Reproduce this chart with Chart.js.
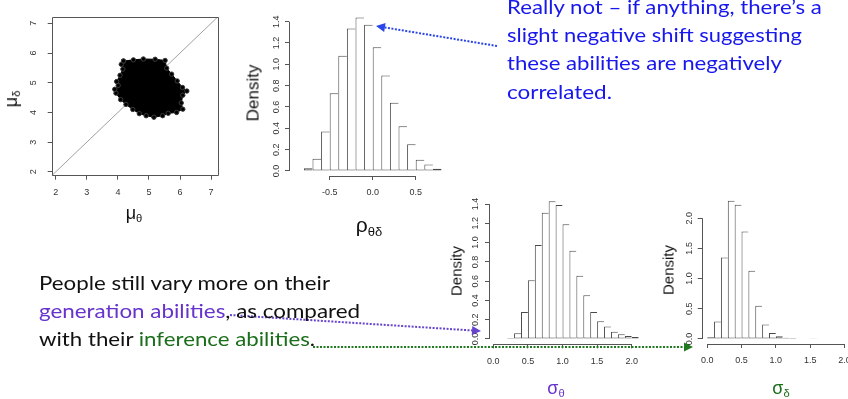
<!DOCTYPE html>
<html>
<head>
<meta charset="utf-8">
<script src="https://cdn.jsdelivr.net/npm/chart.js@4.4.1/dist/chart.umd.min.js"></script>
<style>
body { margin: 0; background: #fff; }
#stage { position: relative; width: 848px; height: 399px; overflow: hidden; background: #fff; font-family: "Liberation Sans", Arial, sans-serif; }
#stage canvas { position: absolute; }
.lbl { position: absolute; white-space: nowrap; color: #111; line-height: 1; }
.rot { transform: translate(-50%, -50%) rotate(-90deg); }
.ctr { transform: translate(-50%, -50%); }
.lbl sub { font-size: 0.62em; vertical-align: -0.25em; }
.txt { position: absolute; white-space: nowrap; font-family: Lato, sans-serif; font-size: 20px; line-height: 28px; transform-origin: 0 50%; color: #111; }
.blue { color: #1717ee; }
.purple { color: #6633cc; }
.green { color: #1b6e1b; }
</style>
</head>
<body>
<div id="stage">
  <canvas id="scatter" width="235" height="220" style="left:0;top:0"></canvas>
  <canvas id="rho" width="230" height="215" style="left:240px;top:0"></canvas>
  <canvas id="sigTheta" width="215" height="214" style="left:440px;top:185px"></canvas>
  <canvas id="sigDelta" width="210" height="214" style="left:655px;top:185px"></canvas>
  <canvas id="ann" width="848" height="399" style="left:0;top:0"></canvas>

  <div class="lbl rot" style="left:12px;top:99px;font-size:18px">μ<sub>δ</sub></div>
  <div class="lbl ctr" style="left:134px;top:214px;font-size:18px">μ<sub>θ</sub></div>
  <div class="lbl rot" style="left:253px;top:93px;font-size:17px">Density</div>
  <div class="lbl ctr" style="left:369px;top:226px;font-size:21px">ρ<sub>θδ</sub></div>
  <div class="lbl rot" style="left:456px;top:271px;font-size:15px">Density</div>
  <div class="lbl ctr purple" style="left:556px;top:389px;font-size:18px">σ<sub>θ</sub></div>
  <div class="lbl rot" style="left:668px;top:270px;font-size:15px">Density</div>
  <div class="lbl ctr green" style="left:781px;top:389px;font-size:18px">σ<sub>δ</sub></div>

  <div class="txt blue fit" data-w="315" style="left:507px;top:-8px">Really not – if anything, there’s a</div>
  <div class="txt blue fit" data-w="295" style="left:507px;top:20px">slight negative shift suggesting</div>
  <div class="txt blue fit" data-w="275" style="left:507px;top:48px">these abilities are negatively</div>
  <div class="txt blue fit" data-w="105" style="left:507px;top:77px">correlated.</div>

  <div class="txt fit" data-w="291" style="left:39px;top:268px">People still vary more on their</div>
  <div class="txt fit" data-w="321" style="left:39px;top:296px"><span class="purple">generation abilities</span>, as compared</div>
  <div class="txt fit" data-w="276" style="left:39px;top:324px">with their <span class="green">inference abilities</span>.</div>
</div>
<script>
// posterior samples mu_theta vs mu_delta (outline of the cloud)
const blobX = [4.18, 4.50, 4.82, 5.20, 5.52, 5.57, 5.73, 5.91, 6.08, 6.22, 6.09, 6.04, 6.09, 5.89, 5.62, 5.44, 5.16, 4.91, 4.69, 4.48, 4.26, 4.09, 3.94, 3.90, 4.01, 3.96, 4.07, 4.16, 4.11, 4.18];
const blobY = [5.73, 5.77, 5.80, 5.79, 5.75, 5.49, 5.29, 5.06, 4.84, 4.72, 4.58, 4.32, 4.11, 4.00, 3.97, 3.89, 3.84, 3.89, 3.96, 4.10, 4.27, 4.43, 4.65, 4.78, 4.91, 5.04, 5.25, 5.46, 5.62, 5.73];
const identLine = [1.5, 7.5];
const scatTicks = [2, 3, 4, 5, 6, 7];

// rho histogram
const rhoMid = [-0.85, -0.75, -0.65, -0.55, -0.45, -0.35, -0.25, -0.15, -0.05, 0.05, 0.15, 0.25, 0.35, 0.45, 0.55, 0.65, 0.75, 0.85];
const rhoDens = [0.005, 0.025, 0.115, 0.37, 0.73, 1.08, 1.335, 1.44, 1.37, 1.16, 0.895, 0.64, 0.42, 0.25, 0.105, 0.06, 0.02, 0.005];
const rhoXTicks = [-0.5, 0, 0.5];
const rhoYTicks = [0, 0.2, 0.4, 0.6, 0.8, 1.0, 1.2, 1.4];

// sigma_theta histogram
const sigThMid = [0.25, 0.35, 0.45, 0.55, 0.65, 0.75, 0.85, 0.95, 1.05, 1.15, 1.25, 1.35, 1.45, 1.55, 1.65, 1.75, 1.85, 1.95, 2.05];
const sigThDens = [0.01, 0.06, 0.28, 0.61, 0.975, 1.31, 1.43, 1.39, 1.19, 0.915, 0.655, 0.455, 0.28, 0.185, 0.13, 0.075, 0.05, 0.03, 0.02];
const sigThXTicks = [0, 0.5, 1.0, 1.5, 2.0];
const sigThYTicks = [0, 0.2, 0.4, 0.6, 0.8, 1.0, 1.2, 1.4];

// sigma_delta histogram
const sigDeMid = [0.05, 0.15, 0.25, 0.35, 0.45, 0.55, 0.65, 0.75, 0.85, 0.95, 1.05, 1.15, 1.25, 1.35, 1.45, 1.55];
const sigDeDens = [0.03, 0.29, 1.35, 2.29, 2.22, 1.78, 1.13, 0.55, 0.24, 0.10, 0.045, 0.02, 0.015, 0.01, 0.008, 0.004];
const sigDeXTicks = [0, 0.5, 1.0, 1.5, 2.0];
const sigDeYTicks = [0, 0.5, 1.0, 1.5, 2.0];

const LINE = '#555';

// R style axes: line only from first to last tick, or a full box
const rAxes = {
  id: 'rAxes',
  afterDraw(chart, args, opts) {
    const { ctx, chartArea: a, scales } = chart;
    ctx.save();
    ctx.strokeStyle = LINE;
    ctx.lineWidth = 1;
    ctx.beginPath();
    if (opts.box) {
      ctx.rect(Math.round(a.left) + 0.5, Math.round(a.top) + 0.5, Math.round(a.width), Math.round(a.height));
    } else {
      const x = scales.x, y = scales.y;
      const xb = Math.round(a.bottom) + 0.5, yl = Math.round(a.left) + 0.5;
      ctx.moveTo(x.getPixelForValue(x.ticks[0].value), xb);
      ctx.lineTo(x.getPixelForValue(x.ticks[x.ticks.length - 1].value), xb);
      ctx.moveTo(yl, y.getPixelForValue(y.ticks[0].value));
      ctx.lineTo(yl, y.getPixelForValue(y.ticks[y.ticks.length - 1].value));
    }
    ctx.stroke();
    ctx.restore();
  }
};

function axis(min, max, ticks, fmt, size, pad, isY) {
  return {
    type: 'linear', min: min, max: max, bounds: 'data', offset: false,
    border: { display: false },
    grid: { offset: false, drawOnChartArea: false, drawTicks: true, tickLength: 4, color: LINE },
    ticks: {
      autoSkip: false, padding: pad, color: '#333',
      font: { size: 9, family: 'Liberation Sans' },
      callback: fmt,
      minRotation: isY ? 90 : 0, maxRotation: isY ? 90 : 0,
      crossAlign: isY ? 'center' : 'near'
    },
    afterBuildTicks: (s) => { s.ticks = ticks.map((v) => ({ value: v })); },
    afterFit: (s) => { if (isY) s.width = size; else s.height = size; }
  };
}

const one = (v) => v.toFixed(1);

function hist(id, mids, dens, g) {
  const last = mids.length - 1;
  return new Chart(document.getElementById(id), {
    type: 'bar',
    data: {
      datasets: [{
        data: mids.map((m, i) => ({ x: m, y: dens[i] })),
        backgroundColor: '#fff',
        borderColor: '#4a4a4a',
        borderSkipped: false,
        inflateAmount: 0,
        borderWidth: (c) => ({ top: 1, left: 1, bottom: 1, right: c.dataIndex === last ? 1 : 0 }),
        barPercentage: 1,
        categoryPercentage: 1
      }]
    },
    options: {
      responsive: false,
      animation: false,
      layout: { padding: { left: 0, top: g.top, right: g.right, bottom: 0 } },
      plugins: { legend: { display: false }, tooltip: { enabled: false }, rAxes: {} },
      scales: {
        x: axis(g.xMin, g.xMax, g.xTicks, one, g.xH, 7.6, false),
        y: axis(g.yMin, g.yMax, g.yTicks, one, g.yW, g.yPad, true)
      }
    },
    plugins: [rAxes]
  });
}

new Chart(document.getElementById('scatter'), {
  type: 'scatter',
  data: {
    datasets: [{
      data: blobX.map((x, i) => ({ x: x, y: blobY[i] })),
      showLine: true,
      fill: 'shape',
      backgroundColor: '#000',
      borderColor: '#000',
      borderWidth: 1,
      pointRadius: 2.2,
      pointBorderWidth: 1,
      pointBackgroundColor: '#000',
      pointBorderColor: '#3a3a3a'
    }, {
      data: identLine.map((v) => ({ x: v, y: v })),
      showLine: true,
      borderColor: '#a0a0a0',
      borderWidth: 1,
      pointRadius: 0
    }]
  },
  options: {
    responsive: false,
    animation: false,
    layout: { padding: { left: 0, top: 11, right: 17.7, bottom: 0 } },
    plugins: { legend: { display: false }, tooltip: { enabled: false }, rAxes: { box: true } },
    scales: {
      x: axis(1.87, 7.2, scatTicks, (v) => String(v), 44.3, 7.6, false),
      y: axis(1.87, 7.2, scatTicks, (v) => String(v), 51.7, 12, true)
    }
  },
  plugins: [rAxes]
});

hist('rho', rhoMid, rhoDens, {
  xMin: -0.973, xMax: 0.972, yMin: -0.047, yMax: 1.5,
  xTicks: rhoXTicks, yTicks: rhoYTicks, top: 11, right: 13.7, xH: 39, yW: 49, yPad: 2
});
hist('sigTheta', sigThMid, sigThDens, {
  xMin: -0.062, xMax: 2.16, yMin: -0.055, yMax: 1.5,
  xTicks: sigThXTicks, yTicks: sigThYTicks, top: 9.4, right: 12.2, xH: 54.7, yW: 49, yPad: 3
});
hist('sigDelta', sigDeMid, sigDeDens, {
  xMin: -0.08, xMax: 2.08, yMin: -0.083, yMax: 2.4,
  xTicks: sigDeXTicks, yTicks: sigDeYTicks, top: 9, right: 15, xH: 55, yW: 46.7, yPad: 1.5
});

// dotted annotation arrows
function dotted(ctx, color, x0, y0, x1, y1) {
  const ang = Math.atan2(y1 - y0, x1 - x0), L = 9, W = 4.5;
  ctx.save();
  ctx.strokeStyle = color;
  ctx.fillStyle = color;
  ctx.lineWidth = 2;
  ctx.setLineDash([2, 1.5]);
  ctx.beginPath();
  ctx.moveTo(x0, y0);
  ctx.lineTo(x1 - L * Math.cos(ang), y1 - L * Math.sin(ang));
  ctx.stroke();
  ctx.setLineDash([]);
  ctx.beginPath();
  ctx.moveTo(x1, y1);
  ctx.lineTo(x1 - L * Math.cos(ang) + W * Math.sin(ang), y1 - L * Math.sin(ang) - W * Math.cos(ang));
  ctx.lineTo(x1 - L * Math.cos(ang) - W * Math.sin(ang), y1 - L * Math.sin(ang) + W * Math.cos(ang));
  ctx.closePath();
  ctx.fill();
  ctx.restore();
}
const actx = document.getElementById('ann').getContext('2d');
dotted(actx, '#2a45e8', 497, 46, 376, 26);
dotted(actx, '#6644cc', 230, 315, 481, 331);
dotted(actx, '#1f7a1f', 313, 347, 693, 347);

// squeeze the slide text to the widths of the original lines
function fitText() {
  document.querySelectorAll('.fit').forEach((el) => {
    el.style.transform = 'none';
    const w = el.getBoundingClientRect().width;
    el.style.transform = 'scaleX(' + (Number(el.dataset.w) / w).toFixed(3) + ')';
  });
}
fitText();
if (document.fonts) document.fonts.ready.then(fitText);
</script>
</body>
</html>
